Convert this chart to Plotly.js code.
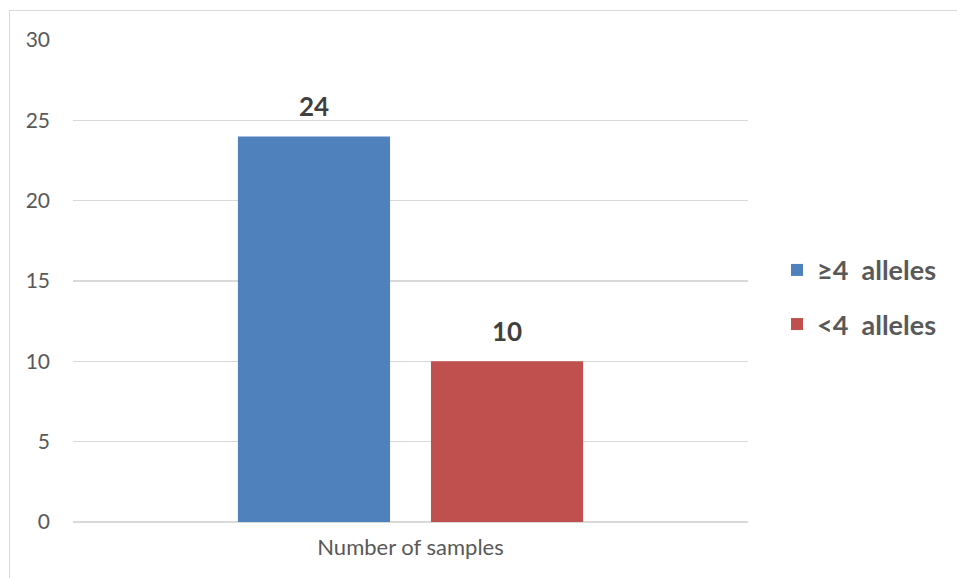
<!DOCTYPE html>
<html>
<head>
<meta charset="utf-8">
<script src="https://cdn.plot.ly/plotly-3.0.1.min.js"></script>
<style>
html,body{margin:0;padding:0;background:#fff;}
#wrap{position:relative;width:957px;height:578px;overflow:hidden;}
#chart{position:absolute;left:0;top:0;width:957px;height:578px;}
#frame{position:absolute;left:9px;top:10px;width:1200px;height:800px;border:1.5px solid #d9d9d9;pointer-events:none;}
</style>
</head>
<body>
<div id="wrap"><div id="chart"></div><div id="frame"></div></div>
<script>
var categories = ['Number of samples'];
var seriesNames = ['≥4  alleles', '<4  alleles'];
var seriesA = [24];
var seriesB = [10];
var colors = ['#4f81bd', '#c0504d'];
var yTicks = [0, 5, 10, 15, 20, 25, 30];

var font = 'Lato, "Liberation Sans", sans-serif';
var bargap = 0.428, bargroupgap = 0.212;
function mk(name, vals, color, grp) {
  return {
    type: 'bar', x: categories, y: vals, name: name,
    marker: {color: color},
    legendgroup: grp, hoverinfo: 'none'
  };
}
var data = [mk(seriesNames[0], seriesA, colors[0], 'a'), mk(seriesNames[1], seriesB, colors[1], 'b')];

// value labels above each bar, placed at the group's slot centres
var slot = (1 - bargap) / 2;
var annotations = [];
[seriesA, seriesB].forEach(function (vals, si) {
  vals.forEach(function (v, ci) {
    annotations.push({
      x: ci + (si - 0.5) * slot, y: v, xref: 'x', yref: 'y',
      text: '<b>' + v + '</b>', showarrow: false, yanchor: 'bottom', yshift: 12,
      font: {family: font, size: 26, color: '#404040'}
    });
  });
});

var layout = {
  width: 957, height: 578,
  margin: {l: 73, r: 209, t: 40, b: 56},
  paper_bgcolor: 'rgba(0,0,0,0)', plot_bgcolor: '#fff',
  barmode: 'group', bargap: bargap, bargroupgap: bargroupgap,
  showlegend: true,
  legend: {x: 1.043, xanchor: 'left', y: 0.466, yanchor: 'middle', traceorder: 'grouped', tracegroupgap: 16,
    font: {family: font, size: 27, color: '#595959', weight: 'bold'}, itemwidth: 30},
  annotations: annotations,
  xaxis: {type: 'category', showgrid: false, showline: false, zeroline: false, ticks: '',
    tickfont: {family: font, size: 22, color: '#595959'}, ticklabelstandoff: 10, fixedrange: true},
  yaxis: {range: [0, 30], tickvals: yTicks, ticktext: yTicks.map(String), showgrid: true, gridcolor: '#d9d9d9', gridwidth: 1.5,
    zeroline: true, zerolinecolor: '#d9d9d9', zerolinewidth: 1.5, showline: false, ticks: '',
    tickfont: {family: font, size: 21, color: '#595959'}, ticklabelstandoff: 22, fixedrange: true}
};
Plotly.newPlot('chart', data, layout, {displayModeBar: false, staticPlot: true});
</script>
</body>
</html>
